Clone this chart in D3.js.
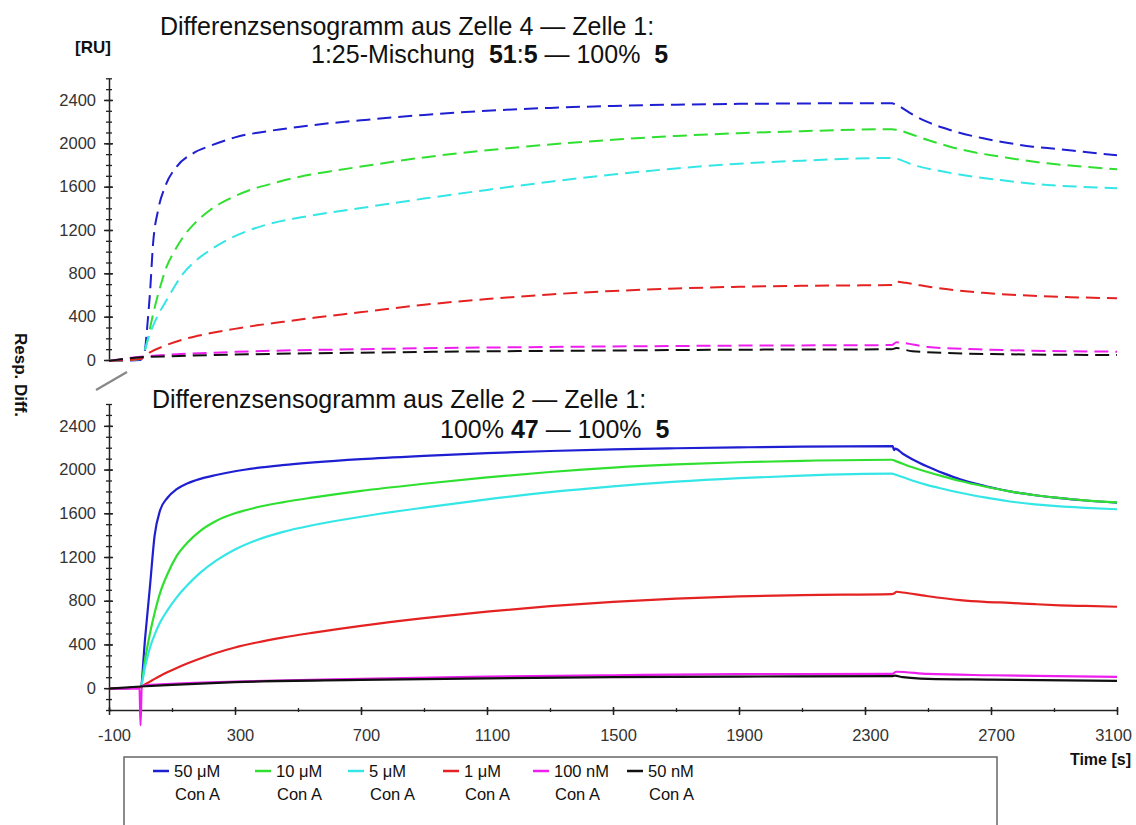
<!DOCTYPE html>
<html><head><meta charset="utf-8">
<script src="https://cdn.jsdelivr.net/npm/d3@7"></script>
<style>
body{margin:0;background:#fff;}
svg{display:block;font-family:"Liberation Sans",Arial,sans-serif;}
text{white-space:pre;}
</style></head><body>
<svg id="c" width="1136" height="825"></svg>
<script>
// ---------- data ----------
const xTickLabels = [-100,300,700,1100,1500,1900,2300,2700,3100];
const yTickLabels = [0,400,800,1200,1600,2000,2400];
const seriesNames = ["50 μM","10 μM","5 μM","1 μM","100 nM","50 nM"];
const seriesSub = "Con A";
const seriesColors = ["#1f1fd2","#30e030","#35e6e6","#e42222","#ee1eee","#111111"];

// upper panel: cell 4 - cell 1 (dashed)  [time s, RU]
const top50uM = [[-100,-8],[0,0],[14,92],[22,330],[30,615],[40,1077],[56,1385],[78,1600],[115,1785],[167,1908],[220,1975],[274,2031],[300,2055],[400,2110],[500,2150],[600,2185],[700,2212],[900,2262],[1100,2300],[1300,2327],[1500,2345],[1700,2357],[1900,2364],[2100,2368],[2385,2370],[2400,2355],[2453,2262],[2500,2195],[2570,2123],[2675,2046],[2750,2005],[2833,1969],[2910,1948],[2992,1922],[3100,1890]];
const top10uM = [[-100,-8],[0,10],[20,154],[35,360],[51,554],[65,700],[83,862],[105,990],[136,1138],[175,1270],[221,1385],[280,1485],[348,1569],[420,1630],[506,1692],[600,1740],[700,1785],[900,1870],[1100,1935],[1300,1990],[1500,2033],[1700,2068],[1900,2093],[2100,2112],[2385,2130],[2400,2125],[2453,2077],[2500,2030],[2570,1969],[2650,1915],[2730,1877],[2800,1845],[2880,1815],[2990,1785],[3100,1760]];
const top5uM = [[-100,-8],[0,10],[30,246],[55,410],[83,554],[110,688],[136,800],[175,915],[221,1015],[280,1115],[348,1200],[420,1265],[506,1315],[600,1360],[700,1403],[900,1490],[1100,1570],[1300,1645],[1500,1712],[1700,1768],[1900,1812],[2100,1840],[2385,1865],[2400,1858],[2453,1800],[2520,1755],[2600,1712],[2730,1661],[2880,1615],[2990,1598],[3100,1585]];
const top1uM = [[-100,-8],[0,10],[30,70],[80,135],[136,190],[210,240],[294,285],[370,320],[453,352],[550,390],[697,440],[900,510],[1100,562],[1300,605],[1500,637],[1700,660],[1900,676],[2100,685],[2385,692],[2392,698],[2400,723],[2430,712],[2520,668],[2600,640],[2675,620],[2750,605],[2833,592],[2950,580],[3100,570]];
const top100nM = [[-100,-8],[0,30],[100,50],[300,75],[700,100],[1100,115],[1500,125],[1900,133],[2385,138],[2400,163],[2500,120],[2700,95],[3100,77]];
const top50nM = [[-100,-8],[0,25],[100,35],[300,50],[700,68],[1100,80],[1500,88],[1900,95],[2385,99],[2400,110],[2450,80],[2700,55],[3100,46]];

// lower panel: cell 2 - cell 1 (solid)
const bot50uM = [[-100,-5],[0,10],[15,470],[30,930],[45,1400],[62,1625],[85,1740],[115,1820],[150,1875],[190,1915],[240,1950],[300,1985],[370,2015],[450,2040],[550,2065],[700,2095],[900,2125],[1100,2150],[1300,2170],[1500,2185],[1700,2195],[1900,2203],[2100,2210],[2388,2215],[2392,2178],[2396,2192],[2420,2145],[2450,2095],[2496,2030],[2550,1965],[2602,1910],[2680,1850],[2760,1800],[2840,1765],[2919,1738],[3000,1717],[3100,1698]];
const bot10uM = [[-100,-5],[0,10],[15,270],[30,500],[45,690],[62,870],[85,1040],[115,1210],[150,1335],[190,1440],[240,1530],[300,1600],[370,1655],[450,1700],[550,1745],[700,1805],[900,1870],[1100,1928],[1300,1978],[1500,2018],[1700,2047],[1900,2067],[2100,2080],[2385,2090],[2400,2075],[2440,2030],[2496,1980],[2550,1935],[2602,1895],[2680,1845],[2760,1800],[2840,1765],[2919,1740],[3000,1718],[3100,1700]];
const bot5uM = [[-100,-5],[0,10],[15,200],[30,370],[45,490],[62,600],[85,710],[115,830],[150,945],[190,1057],[240,1167],[300,1269],[370,1356],[450,1428],[550,1493],[700,1568],[900,1652],[1100,1728],[1300,1793],[1500,1846],[1700,1889],[1900,1921],[2100,1945],[2385,1962],[2400,1950],[2450,1900],[2496,1860],[2550,1822],[2602,1788],[2680,1745],[2760,1708],[2840,1682],[2919,1663],[3000,1650],[3100,1637]];
const bot1uM = [[-100,-5],[0,10],[15,35],[30,60],[45,85],[62,112],[85,145],[115,185],[150,228],[190,272],[240,322],[300,372],[370,418],[450,462],[550,508],[700,570],[900,640],[1100,700],[1300,750],[1500,790],[1700,820],[1900,840],[2100,852],[2385,860],[2392,865],[2400,882],[2420,875],[2496,843],[2602,806],[2680,790],[2760,780],[2840,768],[2919,758],[3000,752],[3100,745]];
const bot100nM = [[-100,-5],[-3,-5],[0,-340],[4,20],[30,30],[100,40],[300,60],[700,85],[1100,105],[1500,118],[1900,128],[2385,130],[2400,150],[2500,130],[2700,118],[3100,104]];
const bot50nM = [[-100,-5],[0,15],[100,30],[300,55],[700,75],[1100,90],[1500,100],[1900,106],[2385,110],[2395,115],[2420,100],[2500,85],[2700,78],[3100,67]];

const topSeries = [top50uM,top10uM,top5uM,top1uM,top100nM,top50nM];
const botSeries = [bot50uM,bot10uM,bot5uM,bot1uM,bot100nM,bot50nM];

// ---------- drawing ----------
const svg = d3.select("#c");
const axisColor = "#222";
const fmt = d => String(d);
const x = d3.scaleLinear().domain([-100,3100]).range([109,1117]);
const yTop = d3.scaleLinear().domain([0,2600]).range([360,78.3]);
const yBot = d3.scaleLinear().domain([-200,2600]).range([710,404]);

function yAxis(scale, lo, hi){
  const g = svg.append("g").attr("transform","translate(109,0)");
  const minor = d3.range(lo, hi+1, 100);
  const gm = g.append("g").call(d3.axisLeft(scale).tickValues(minor).tickSize(3).tickSizeOuter(0).tickFormat(""));
  gm.selectAll(".tick line").attr("x1",3).attr("stroke",axisColor).attr("stroke-width",1.3);
  gm.select(".domain").attr("stroke",axisColor).attr("stroke-width",1.5);
  const gl = g.append("g").call(d3.axisLeft(scale).tickValues(yTickLabels).tickSize(5).tickSizeOuter(0).tickPadding(8).tickFormat(fmt));
  gl.select(".domain").remove();
  gl.selectAll(".tick line").attr("x1",4).attr("stroke",axisColor).attr("stroke-width",1.5);
  gl.selectAll(".tick text").attr("font-size",16.5).attr("fill","#333").attr("font-family","Liberation Sans, Arial, sans-serif");
}
yAxis(yTop, 0, 2600);
yAxis(yBot, -200, 2600);

// x axis
const gx = svg.append("g").attr("transform","translate(0,710)");
const gxm = gx.append("g").call(d3.axisBottom(x).tickValues(d3.range(-100,3101,200)).tickSize(2).tickSizeOuter(0).tickFormat(""));
gxm.selectAll(".tick line").attr("y1",-2).attr("stroke",axisColor).attr("stroke-width",1.3);
gxm.select(".domain").attr("stroke",axisColor).attr("stroke-width",1.5);
const gxl = gx.append("g").call(d3.axisBottom(x).tickValues(xTickLabels).tickSize(5).tickSizeOuter(0).tickPadding(14).tickFormat(fmt));
gxl.select(".domain").remove();
gxl.selectAll(".tick line").attr("y1",-3).attr("stroke",axisColor).attr("stroke-width",1.5);
gxl.selectAll(".tick text").attr("font-size",16.5).attr("fill","#333").attr("font-family","Liberation Sans, Arial, sans-serif")
  .attr("dx", d => d===3100 ? -4 : 5);

// axis break mark
svg.append("line").attr("x1",96).attr("y1",390).attr("x2",127).attr("y2",372)
  .attr("stroke","#888").attr("stroke-width",2.2);

// lines
const lineTop = d3.line().x(d=>x(d[0])).y(d=>yTop(d[1])).curve(d3.curveMonotoneX);
const lineBot = d3.line().x(d=>x(d[0])).y(d=>yBot(d[1])).curve(d3.curveMonotoneX);
topSeries.forEach((s,i)=>{
  svg.append("path").attr("d",lineTop(s)).attr("fill","none").attr("stroke",seriesColors[i])
    .attr("stroke-width",2).attr("stroke-dasharray","14,7");
});
botSeries.forEach((s,i)=>{
  svg.append("path").attr("d",lineBot(s)).attr("fill","none").attr("stroke",seriesColors[i])
    .attr("stroke-width",2.2);
});

// titles
function rich(xp, yp, parts){
  const t = svg.append("text").attr("x",xp).attr("y",yp).attr("font-size",25).attr("fill","#111");
  parts.forEach(p=>t.append("tspan").attr("font-weight",p[1]?"bold":"normal").text(p[0]));
}
rich(160,35,[["Differenzsensogramm aus Zelle 4 — Zelle 1:",0]]);
rich(311,63,[["1:25-Mischung  ",0],["51",1],[":",0],["5",1],[" — 100%  ",0],["5",1]]);
rich(152,408,[["Differenzsensogramm aus Zelle 2 — Zelle 1:",0]]);
rich(440,438,[["100% ",0],["47",1],[" — 100%  ",0],["5",1]]);

svg.append("text").attr("x",75).attr("y",53).attr("font-size",17).attr("font-weight","bold").attr("fill","#111").text("[RU]");
svg.append("text").attr("transform","translate(15,375) rotate(90)").attr("text-anchor","middle")
  .attr("font-size",17).attr("font-weight","bold").attr("fill","#111").text("Resp. Diff.");
svg.append("text").attr("x",1131).attr("y",765).attr("text-anchor","end").attr("font-size",16).attr("font-weight","bold").attr("fill","#111").text("Time [s]");

// legend
svg.append("rect").attr("x",124).attr("y",757).attr("width",873).attr("height",90)
  .attr("fill","none").attr("stroke","#666").attr("stroke-width",1.5);
const legX = [153,255,348,443,533,627];
seriesNames.forEach((n,i)=>{
  const g = svg.append("g").attr("transform",`translate(${legX[i]},0)`);
  g.append("line").attr("x1",0).attr("x2",16).attr("y1",771).attr("y2",771).attr("stroke",seriesColors[i]).attr("stroke-width",2.5);
  g.append("text").attr("x",21).attr("y",777).attr("font-size",16.5).attr("fill","#111").text(n);
  g.append("text").attr("x",22).attr("y",800).attr("font-size",16.5).attr("fill","#111").text(seriesSub);
});
</script>
</body></html>
